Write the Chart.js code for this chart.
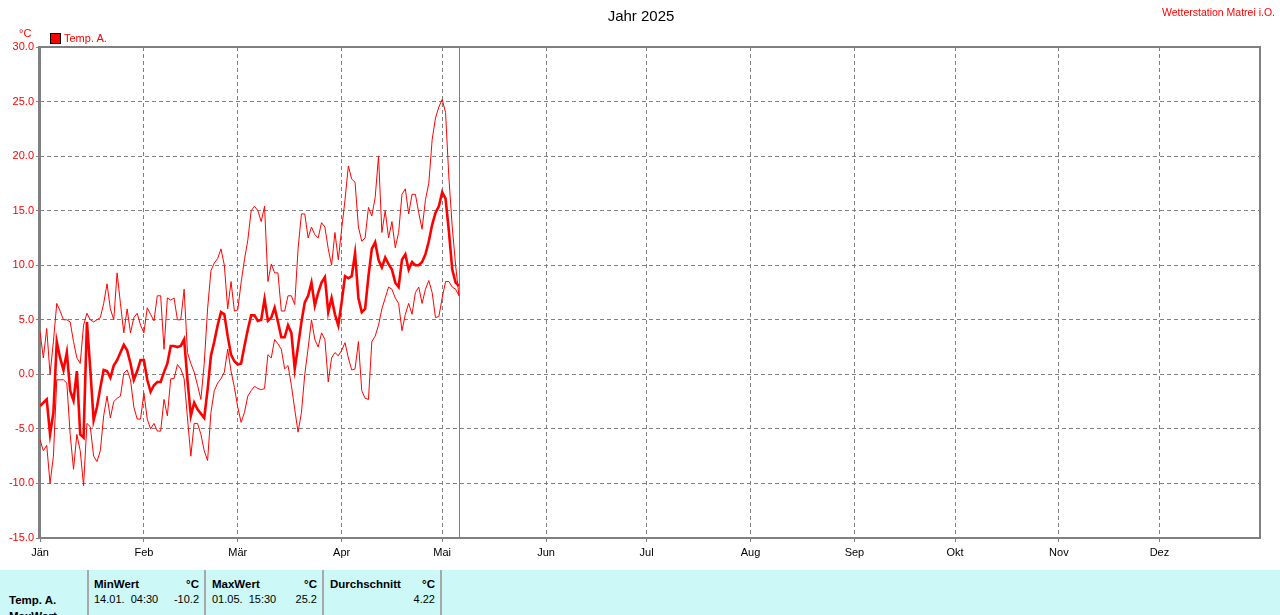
<!DOCTYPE html>
<html>
<head>
<meta charset="utf-8">
<script src="https://cdn.jsdelivr.net/npm/chart.js@4.4.1/dist/chart.umd.min.js"></script>
<style>
  body { margin: 0; width: 1280px; height: 615px; overflow: hidden; background: #fff; font-family: "Liberation Sans", Arial, sans-serif; }
  .abs { position: absolute; white-space: pre; }
  #wrap { position: absolute; left: 0; top: 0; width: 1280px; height: 570px; }
  #title { left: 0; top: 7px; width: 1282px; text-align: center; font-size: 15px; line-height: 18px; color: #000; }
  #station { right: 5px; top: 5px; font-size: 10.5px; line-height: 14px; color: #f00; }
  #unit { left: 19px; top: 26px; font-size: 11px; line-height: 14px; color: #f00; }
  #legbox { left: 50px; top: 33px; width: 9px; height: 9px; background: #f00; border: 1px solid #000; }
  #legtxt { left: 64px; top: 31px; font-size: 11px; line-height: 14px; color: #f00; }
  #table { position: absolute; left: 0; top: 570px; width: 1280px; height: 45px; background: #ccf8f8; overflow: hidden; font-size: 11px; }
  .sep { position: absolute; top: 0; width: 2px; height: 45px; background: #a8a8a8; }
  .t { position: absolute; line-height: 14px; color: #000; white-space: pre; }
  .b { font-weight: bold; font-size: 11.5px; }
  .r { text-align: right; }
</style>
</head>
<body>
<div id="wrap"><canvas id="chart" width="1280" height="570"></canvas></div>
<div id="title" class="abs">Jahr 2025</div>
<div id="station" class="abs">Wetterstation Matrei i.O.</div>
<div id="unit" class="abs">°C</div>
<div id="legbox" class="abs"></div>
<div id="legtxt" class="abs">Temp. A.</div>
<div id="table">
  <div class="sep" style="left:87px"></div>
  <div class="sep" style="left:204px"></div>
  <div class="sep" style="left:322px"></div>
  <div class="sep" style="left:440px"></div>
  <div class="t b" style="left:9px; top:23px">Temp. A.</div>
  <div class="t b" style="left:9px; top:39px">MaxWert</div>
  <div class="t b" style="left:94px; top:7px">MinWert</div>
  <div class="t b r" style="left:150px; width:49px; top:7px">°C</div>
  <div class="t" style="left:94px; top:22px">14.01.  04:30</div>
  <div class="t r" style="left:150px; width:49px; top:22px">-10.2</div>
  <div class="t b" style="left:212px; top:7px">MaxWert</div>
  <div class="t b r" style="left:268px; width:49px; top:7px">°C</div>
  <div class="t" style="left:212px; top:22px">01.05.  15:30</div>
  <div class="t r" style="left:268px; width:49px; top:22px">25.2</div>
  <div class="t b" style="left:330px; top:7px">Durchschnitt</div>
  <div class="t b r" style="left:386px; width:49px; top:7px">°C</div>
  <div class="t r" style="left:386px; width:49px; top:22px">4.22</div>
</div>
<script>
// day of year 0 = 1 Jan 2025, axis runs to 31 Dec (day 364)
const monthStarts = [0, 31, 59, 90, 120, 151, 181, 212, 243, 273, 304, 334];
const monthLabels = ['Jän', 'Feb', 'Mär', 'Apr', 'Mai', 'Jun', 'Jul', 'Aug', 'Sep', 'Okt', 'Nov', 'Dez'];
const yTicks = [-15, -10, -5, 0, 5, 10, 15, 20, 25, 30];
const todayDay = 125.0;

// daily maximum, Jan 1 .. May 6
const tempMax = [
  3.9, 1.5, 4.2, 0.0, 3.0, 6.5, 5.8, 5.0, 5.0, 4.8,
  3.0, 1.5, 1.0, 4.5, 5.6, 5.0, 4.8, 5.0, 5.2, 6.5,
  8.3, 6.0, 5.0, 9.3, 6.5, 3.8, 6.0, 3.8, 5.2, 5.6,
  4.5, 3.8, 6.1, 5.5, 4.9, 7.2, 7.2, 2.3, 7.0, 6.8,
  7.0, 5.0, 5.0, 7.8, 2.0, 1.0, 0.2, -1.0, -2.3, 1.0,
  6.0, 9.5, 10.2, 10.6, 11.5, 10.0, 6.0, 8.5, 5.8, 5.9,
  8.4, 10.5, 12.3, 15.0, 15.4, 15.0, 14.0, 15.4, 8.5, 10.1,
  9.3, 9.3, 5.8, 5.8, 7.2, 7.2, 6.4, 11.5, 14.7, 14.7,
  12.5, 13.5, 12.8, 12.5, 13.9, 13.5, 11.5, 10.0, 13.0, 10.5,
  13.3, 16.0, 19.1, 17.9, 17.6, 13.5, 12.2, 12.5, 15.3, 14.5,
  16.2, 20.0, 13.0, 15.0, 12.5, 14.0, 11.6, 13.0, 16.5, 17.0,
  14.7, 16.5, 16.5, 14.8, 13.3, 16.0, 17.5, 21.5, 23.5, 24.5,
  25.2, 24.0, 18.0, 13.5, 10.0, 7.2
];
// daily mean
const tempAvg = [
  -2.9, -2.6, -2.3, -5.5, -3.5, 3.0, 1.5, 0.4, 2.0, -1.5,
  -2.4, 0.3, -5.5, -5.8, 4.8, 0.5, -4.2, -3.0, -1.2, 0.4,
  0.3, -0.3, 0.8, 1.3, 2.0, 2.7, 2.2, 1.0, -0.5, 0.3,
  1.3, 1.3, -0.5, -1.6, -1.0, -0.7, -0.7, 0.2, 1.0, 2.6,
  2.6, 2.5, 2.6, 3.2, -0.5, -3.8, -2.6, -3.2, -3.6, -4.0,
  -1.4, 1.7, 3.0, 4.5, 5.7, 5.5, 3.5, 1.8, 1.2, 0.9,
  1.0, 2.6, 4.1, 5.4, 5.4, 4.9, 5.0, 6.9, 4.9, 5.2,
  6.1, 4.8, 3.4, 3.4, 4.5, 3.8, 0.5, 2.6, 4.8, 6.6,
  7.2, 8.4, 6.3, 7.5, 8.4, 8.9, 5.7, 7.0, 5.5, 4.5,
  6.6, 9.0, 8.8, 9.0, 11.1, 7.0, 5.7, 6.0, 9.0, 11.5,
  12.1, 10.5, 9.8, 10.7, 10.1, 9.6, 8.4, 8.0, 10.5, 11.0,
  9.6, 10.3, 10.0, 10.0, 10.3, 11.0, 12.2, 13.7, 14.8, 15.4,
  16.7, 16.1, 13.1, 9.6, 8.4, 8.1
];
// daily minimum
const tempMin = [
  -6.0, -7.0, -6.5, -10.0, -7.5, -0.5, -0.5, -0.5, -0.8, -5.5,
  -8.7, -5.5, -7.0, -10.2, -4.5, -4.8, -7.5, -8.0, -7.0, -3.8,
  -2.0, -4.0, -2.5, -2.2, -2.0, 0.1, 0.4, -0.5, -3.0, -4.1,
  -4.1, -1.7, -4.1, -5.0, -4.5, -5.2, -5.2, -2.3, -3.8, -0.4,
  -0.4, 0.9, 0.5, -0.4, -4.0, -7.5, -4.5, -4.5, -5.5, -7.0,
  -7.9, -3.5, -1.5, -0.8, -0.4, 0.2, 2.3, 0.3, -1.2, -3.0,
  -4.4, -3.5, -2.0, -1.5, -1.1, -1.3, -1.4, -1.3, 1.8, 1.5,
  3.2, 2.8, 2.3, 0.5, 0.8, -1.0, -3.2, -5.3, -3.5, 0.0,
  2.4, 5.0, 3.2, 2.5, 3.8, 3.2, -0.7, 1.5, 2.0, 1.7,
  2.2, 2.9, 1.5, 0.4, 0.5, 3.0, -1.5, -2.2, -2.3, 3.0,
  3.5, 4.5, 6.0, 7.0, 8.0, 7.8, 7.0, 6.5, 4.0, 5.5,
  6.5, 5.5, 7.5, 8.0, 6.5, 7.8, 8.6, 7.5, 5.2, 5.3,
  7.0, 8.5, 8.5, 8.0, 7.8, 7.2
];

function toPoints(arr) {
  return arr.map((v, i) => ({ x: i, y: v }));
}

const framePlugin = {
  id: 'frame',
  beforeDatasetsDraw(chart) {
    const { ctx, chartArea: a } = chart;
    ctx.save();
    ctx.strokeStyle = '#808080';
    ctx.lineWidth = 2;
    ctx.strokeRect(a.left, a.top, a.right - a.left, a.bottom - a.top);
    ctx.fillStyle = '#808080';
    ctx.fillRect(a.left - 2, a.top - 1, 2, a.bottom - a.top + 2);
    // current day marker
    const x = Math.round(chart.scales.x.getPixelForValue(todayDay)) + 0.5;
    ctx.lineWidth = 1;
    ctx.beginPath();
    ctx.moveTo(x, a.top);
    ctx.lineTo(x, a.bottom);
    ctx.stroke();
    ctx.restore();
  }
};

new Chart(document.getElementById('chart'), {
  type: 'line',
  data: {
    datasets: [
      { label: 'Max', data: toPoints(tempMax), borderColor: '#ff0000', borderWidth: 1, pointRadius: 0, tension: 0 },
      { label: 'Temp. A.', data: toPoints(tempAvg), borderColor: '#ff0000', borderWidth: 2.6, pointRadius: 0, tension: 0 },
      { label: 'Min', data: toPoints(tempMin), borderColor: '#ff0000', borderWidth: 1, pointRadius: 0, tension: 0 },
    ]
  },
  options: {
    responsive: false,
    animation: false,
    devicePixelRatio: 1,
    layout: { padding: { top: 47, right: 20, left: 0, bottom: 0 } },
    plugins: { legend: { display: false }, tooltip: { enabled: false }, title: { display: false } },
    scales: {
      x: {
        type: 'linear', min: 0, max: 364,
        afterBuildTicks: (scale) => { scale.ticks = monthStarts.map(v => ({ value: v })); },
        afterFit: (scale) => { scale.height = 32; },
        grid: { color: '#808080', lineWidth: 1, tickLength: 4, tickColor: '#808080' },
        border: { display: false, dash: [4, 3] },
        ticks: {
          autoSkip: false, maxRotation: 0, padding: 4, color: '#000',
          font: { family: 'Liberation Sans', size: 11 },
          callback: (v) => monthLabels[monthStarts.indexOf(v)]
        }
      },
      y: {
        min: -15, max: 30,
        afterBuildTicks: (scale) => { scale.ticks = yTicks.map(v => ({ value: v })); },
        afterFit: (scale) => { scale.width = 40; },
        grid: { color: '#808080', lineWidth: 1, tickLength: 4, tickColor: '#808080' },
        border: { display: false, dash: [4, 3] },
        ticks: {
          padding: 2, color: '#ff0000',
          font: { family: 'Liberation Sans', size: 11 },
          callback: (v) => v.toFixed(1)
        }
      }
    }
  },
  plugins: [framePlugin]
});
</script>
</body>
</html>
